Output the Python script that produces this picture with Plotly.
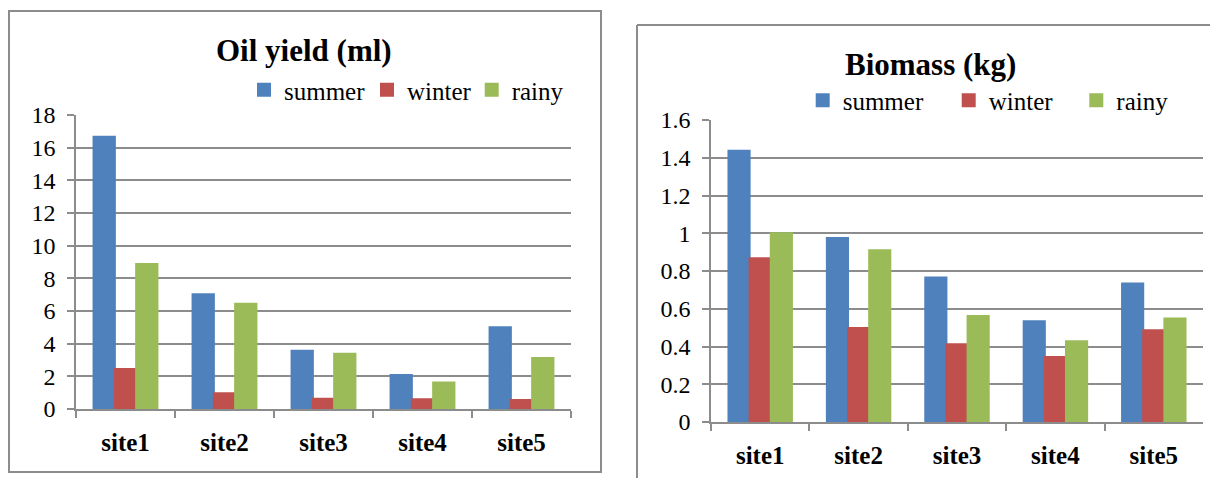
import plotly.graph_objects as go

W, H = 1210, 478

sites = ["site1", "site2", "site3", "site4", "site5"]
seasons = ["summer", "winter", "rainy"]
colors = ["#4F81BD", "#C0504D", "#9BBB59"]

oil_summer = [16.67, 7.02, 3.57, 2.08, 5.0]
oil_winter = [2.45, 0.96, 0.63, 0.59, 0.55]
oil_rainy = [8.88, 6.45, 3.39, 1.63, 3.12]

bio_summer = [1.437, 0.975, 0.766, 0.534, 0.734]
bio_winter = [0.867, 0.498, 0.412, 0.345, 0.486]
bio_rainy = [1.0, 0.91, 0.561, 0.428, 0.548]

oil_title = "Oil yield (ml)"
bio_title = "Biomass (kg)"


def px(x):
    return x / W


def py(y):
    return 1 - y / H


SERIF = "Liberation Serif"
GRID = "#8c8c8c"

fig = go.Figure()

oil_vals = [oil_summer, oil_winter, oil_rainy]
bio_vals = [bio_summer, bio_winter, bio_rainy]

for i, (name, vals) in enumerate(zip(seasons, oil_vals)):
    fig.add_trace(go.Bar(
        x=sites, y=vals, name=name, xaxis="x", yaxis="y",
        marker=dict(color=colors[i], line=dict(color=colors[i], width=2)),
        legend="legend" if i == 0 else f"legend{i + 1}",
    ))
for i, (name, vals) in enumerate(zip(seasons, bio_vals)):
    fig.add_trace(go.Bar(
        x=sites, y=vals, name=name, xaxis="x2", yaxis="y2",
        marker=dict(color=colors[i], line=dict(color=colors[i], width=2)),
        legend=f"legend{i + 4}",
    ))

axis_common = dict(
    showline=True, linecolor=GRID, linewidth=1.5,
    ticks="outside", ticklen=7, tickcolor=GRID, tickwidth=1.5,
    tickfont=dict(family=SERIF, size=24, color="black"),
    zeroline=False,
)

xaxis_common = dict(axis_common)
xaxis_common.update(
    showgrid=False, tickson="boundaries", ticklabelstandoff=10,
    tickfont=dict(family=SERIF, size=25, color="black", weight="bold"),
)

yaxis_common = dict(axis_common)
yaxis_common.update(showgrid=True, gridcolor=GRID, gridwidth=1.5, ticklabelstandoff=7)

legend_font = dict(family=SERIF, size=25, color="black")
# square centres (pixels) for each legend entry
leg_pos = [(268, 90), (391, 90), (495.7, 90), (826.7, 100.5), (972.7, 100.5), (1100.3, 100.5)]
legends = {}
for k, (lx, ly) in enumerate(leg_pos):
    key = "legend" if k == 0 else f"legend{k + 1}"
    legends[key] = dict(
        x=px(lx - 24), y=py(ly), xanchor="left", yanchor="middle",
        orientation="h", font=legend_font, bgcolor="rgba(0,0,0,0)",
        itemwidth=30, borderwidth=0,
    )

fig.update_layout(
    width=W, height=H,
    margin=dict(l=0, r=0, t=0, b=0, autoexpand=False),
    showlegend=True,
    font=dict(family=SERIF, size=24, color="black"),
    paper_bgcolor="white", plot_bgcolor="white",
    barmode="group", bargap=0.355, bargroupgap=0,
    xaxis=dict(xaxis_common, domain=[px(76), px(571)], anchor="y"),
    yaxis=dict(yaxis_common, domain=[py(409), py(115)], range=[0, 18], dtick=2, anchor="x"),
    xaxis2=dict(xaxis_common, domain=[px(711), px(1203)], anchor="y2"),
    yaxis2=dict(yaxis_common, domain=[py(422), py(120)], range=[0, 1.6], dtick=0.2, anchor="x2"),
    annotations=[
        dict(text=f"<b>{oil_title}</b>", x=px(304), y=py(51), xref="paper", yref="paper",
             xanchor="center", yanchor="middle", showarrow=False,
             font=dict(family=SERIF, size=31, color="black")),
        dict(text=f"<b>{bio_title}</b>", x=px(930), y=py(64), xref="paper", yref="paper",
             xanchor="center", yanchor="middle", showarrow=False,
             font=dict(family=SERIF, size=31, color="black")),
    ],
    shapes=[
        dict(type="rect", xref="paper", yref="paper", x0=px(9), x1=px(601), y0=py(472), y1=py(11),
             line=dict(color="#8c8c8c", width=2)),
        dict(type="line", xref="paper", yref="paper", x0=px(637), x1=px(1210), y0=py(25), y1=py(25),
             line=dict(color="#8c8c8c", width=2)),
        dict(type="line", xref="paper", yref="paper", x0=px(637), x1=px(637), y0=py(25), y1=py(478),
             line=dict(color="#8c8c8c", width=2)),
    ],
    **legends,
)

fig.write_html(
    "out.html",
    config={"displayModeBar": False},
    post_script="document.body.style.margin='0px';document.body.style.overflow='hidden';",
)
